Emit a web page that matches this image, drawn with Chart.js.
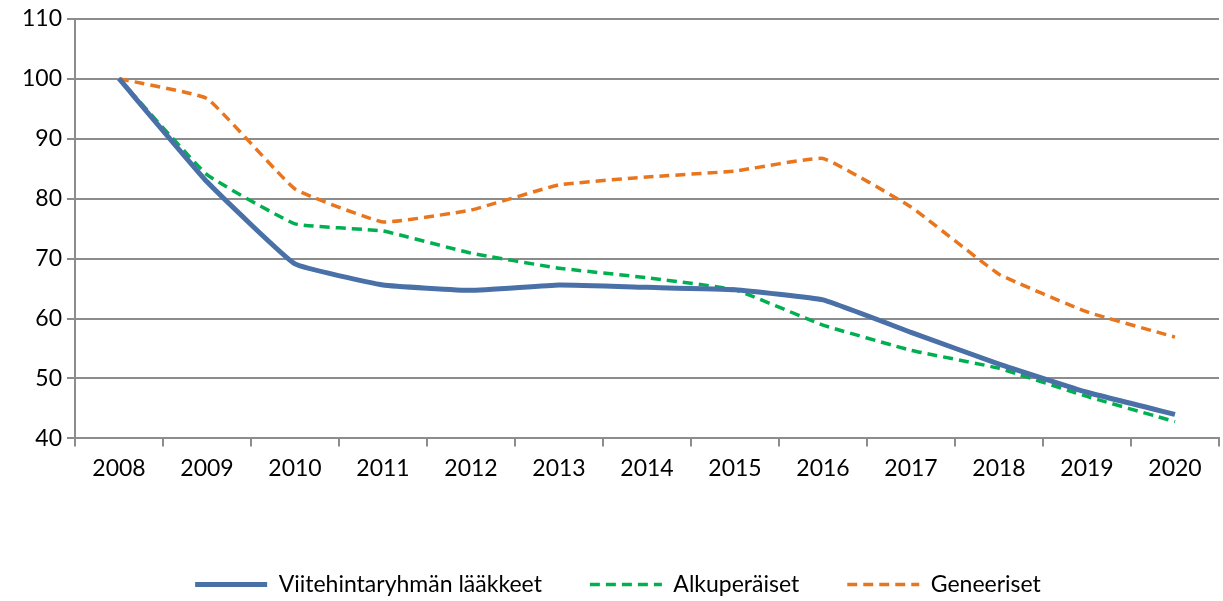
<!DOCTYPE html>
<html>
<head>
    <title>Viitehintaryhmät</title>
    <script src="https://cdn.jsdelivr.net/npm/chart.js"></script>
    <style>
        body { margin: 0; background: #fff; }
        #wrap { width: 1223px; height: 601px; }
    </style>
</head>
<body>
    <div id="wrap"><canvas id="priceChart"></canvas></div>
    <script>
        const years = ['2008', '2009', '2010', '2011', '2012', '2013', '2014', '2015', '2016', '2017', '2018', '2019', '2020'];
        const viitehinta = [100, 82.8, 69.1, 65.6, 64.7, 65.6, 65.2, 64.8, 63.1, 57.7, 52.4, 47.7, 44.0];
        const alkuperaiset = [100, 84.0, 75.8, 74.6, 70.9, 68.4, 66.8, 64.8, 58.9, 54.7, 51.7, 47.0, 42.8];
        const geneeriset = [100, 96.7, 81.6, 76.1, 78.1, 82.3, 83.6, 84.6, 86.7, 78.6, 67.4, 61.1, 56.9];

        const gridGray = '#8c8c8c';
        const ctx = document.getElementById('priceChart').getContext('2d');
        const chart = new Chart(ctx, {
            type: 'line',
            data: {
                labels: years,
                datasets: [
                    {
                        label: 'Viitehintaryhmän lääkkeet',
                        data: viitehinta,
                        borderColor: '#4a70a8',
                        backgroundColor: '#4a70a8',
                        borderWidth: 5,
                        pointRadius: 0,
                        tension: 0.1,
                        fill: false
                    },
                    {
                        label: 'Alkuperäiset',
                        data: alkuperaiset,
                        borderColor: '#00b050',
                        backgroundColor: '#00b050',
                        borderWidth: 3.5,
                        borderDash: [10, 6],
                        pointRadius: 0,
                        tension: 0.1,
                        fill: false
                    },
                    {
                        label: 'Geneeriset',
                        data: geneeriset,
                        borderColor: '#e8761e',
                        backgroundColor: '#e8761e',
                        borderWidth: 3.5,
                        borderDash: [10, 6],
                        pointRadius: 0,
                        tension: 0.1,
                        fill: false
                    }
                ]
            },
            options: {
                responsive: true,
                maintainAspectRatio: false,
                animation: false,
                layout: { padding: { left: 17, right: 4, top: 2, bottom: -5 } },
                plugins: {
                    tooltip: { enabled: false },
                    legend: {
                        position: 'bottom',
                        labels: {
                            usePointStyle: true,
                            pointStyle: 'line',
                            pointStyleWidth: 72,
                            padding: 48,
                            color: '#000',
                            font: { family: 'Lato', size: 23 },
                            generateLabels: function (chart) {
                                // default labels lose the dash when point styles are used
                                const items = Chart.defaults.plugins.legend.labels.generateLabels(chart);
                                items.forEach(function (item) {
                                    const ds = chart.data.datasets[item.datasetIndex];
                                    item.lineDash = ds.borderDash || [];
                                    item.lineWidth = ds.borderWidth;
                                    item.strokeStyle = ds.borderColor;
                                });
                                return items;
                            }
                        }
                    }
                },
                scales: {
                    x: {
                        offset: true,
                        grid: {
                            offset: true,
                            drawOnChartArea: false,
                            drawTicks: true,
                            tickLength: 8,
                            color: gridGray,
                            lineWidth: 2
                        },
                        border: { color: gridGray, width: 2 },
                        ticks: {
                            color: '#000',
                            padding: 8,
                            maxRotation: 0,
                            font: { family: 'Lato', size: 23 }
                        },
                        afterFit: function (scale) { scale.height += 35; }
                    },
                    y: {
                        min: 40,
                        max: 110,
                        ticks: {
                            stepSize: 10,
                            color: '#000',
                            padding: 5,
                            font: { family: 'Lato', size: 23 }
                        },
                        grid: {
                            color: gridGray,
                            lineWidth: 2,
                            tickLength: 8
                        },
                        border: { color: gridGray, width: 2 }
                    }
                }
            }
        });
    </script>
</body>
</html>
